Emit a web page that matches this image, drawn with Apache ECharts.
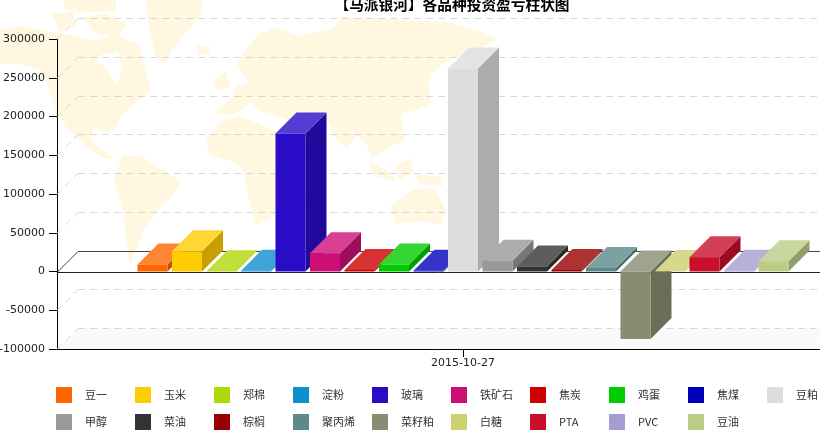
<!DOCTYPE html>
<html>
<head>
<meta charset="utf-8">
<style>html,body{margin:0;padding:0;background:#fff}#c{width:820px;height:444px}</style>
<script src="https://cdn.jsdelivr.net/npm/echarts@6/dist/echarts.min.js"></script>
</head>
<body>
<div id="c"></div>
<script>
const dates = ['2015-10-27'];
const names = ['豆一','玉米','郑棉','淀粉','玻璃','铁矿石','焦炭','鸡蛋','焦煤','豆粕','甲醇','菜油','棕榈','聚丙烯','菜籽粕','白糖','PTA','PVC','豆油'];
const values = [9000,26000,400,1000,178000,23700,2000,9000,1000,262000,14000,6500,2000,4500,-87000,500,18500,1000,13300];
const colors = ['#FF6600','#FFCC00','#AFD80A','#0F8FD0','#2A0CC8','#CC0F77','#CC0000','#00CC00','#0000BB','#DDDDDD','#999999','#333333','#990000','#5B8A88','#868D70','#CCD06E','#C8102A','#A79CCF','#BCCC85'];
const yTicks = [300000,250000,200000,150000,100000,50000,0,-50000,-100000];
const title = '【马派银河】各品种投资盈亏柱状图';

const LEFT = 57, RIGHT = 820, DEPTH = 21, BAR_W = 30, STEP = 34.5;
const LAND = '#FFF7E0';
const landShapes = [
  [[0,31],[20,27],[45,32],[75,37],[95,42],[115,35],[128,42],[138,45],[147,80],[150,90],[133,103],[120,117],[113,130],[105,130],[92,128],[90,140],[100,150],[112,158],[105,158],[90,148],[67,127],[57,110],[50,90],[43,70],[20,63],[0,63]],
  [[53,15],[72,12],[75,25],[60,30]],
  [[65,0],[115,0],[115,10],[85,12],[65,8]],
  [[85,18],[105,15],[125,25],[118,35],[95,32]],
  [[147,0],[202,0],[200,13],[187,30],[170,50],[165,63],[157,57],[150,30]],
  [[197,47],[208,47],[208,53],[200,55]],
  [[123,157],[140,157],[160,170],[180,182],[170,197],[157,210],[143,228],[135,250],[130,262],[127,240],[125,215],[115,180]],
  [[217,113],[233,97],[237,87],[250,83],[238,63],[257,37],[273,28],[300,37],[333,30],[343,18],[387,20],[447,23],[480,32],[495,40],[480,47],[447,60],[430,73],[427,87],[430,103],[413,110],[400,113],[403,140],[387,147],[373,157],[367,143],[357,133],[347,147],[337,140],[330,123],[313,117],[300,123],[283,117],[273,113],[260,110],[250,100],[237,113]],
  [[207,140],[220,123],[240,117],[263,127],[277,133],[290,153],[310,147],[300,167],[287,187],[277,213],[257,223],[250,200],[243,167],[230,160],[210,153]],
  [[392,207],[413,190],[433,190],[445,210],[440,223],[420,220],[397,223]],
  [[370,163],[387,172],[395,180],[375,175]],
  [[397,165],[410,160],[412,172],[400,178]],
  [[415,175],[440,178],[442,185],[420,183]],
  [[215,80],[225,73],[230,87],[218,90]],
  [[303,190],[308,195],[300,210],[296,205]]
];
const waterShapes = [
  [[97,62],[102,54],[118,52],[122,70],[117,84],[113,80],[107,68]]
];

function mix(hex, target, t) {
  const n = parseInt(hex.slice(1), 16);
  const ch = [n >> 16 & 255, n >> 8 & 255, n & 255].map(c => Math.round(c + (target - c) * t));
  return 'rgb(' + ch.join(',') + ')';
}

function barRenderer(i) {
  return function (params, api) {
    const p = api.coord([api.value(0), api.value(1)]);
    const base = api.coord([api.value(0), 0]);
    const x = p[0] + (i - (names.length - 1) / 2) * STEP - BAR_W / 2;
    const top = Math.min(p[1], base[1]), bot = Math.max(p[1], base[1]);
    const r = x + BAR_W;
    return {
      type: 'group',
      children: [
        { type: 'polygon', shape: { points: [[r, top], [r + DEPTH, top - DEPTH], [r + DEPTH, bot - DEPTH], [r, bot]] }, style: { fill: mix(colors[i], 0, 0.22) } },
        { type: 'polygon', shape: { points: [[x, top], [x + DEPTH, top - DEPTH], [r + DEPTH, top - DEPTH], [r, top]] }, style: { fill: mix(colors[i], 255, 0.2) } },
        { type: 'rect', shape: { x: x, y: top, width: BAR_W, height: bot - top }, style: { fill: colors[i] } }
      ]
    };
  };
}

function frameRenderer(params, api) {
  const v = api.value(0);
  const y = Math.round(api.coord([0, v])[1]) + 0.5;
  const zero = v === 0;
  const st = zero
    ? { stroke: '#444', lineWidth: 1, fill: null }
    : { stroke: '#d8d8d8', lineWidth: 1, lineDash: [7, 5], fill: null };
  const children = [
    { type: 'line', shape: { x1: LEFT + DEPTH, y1: y - DEPTH, x2: RIGHT, y2: y - DEPTH }, style: st },
    { type: 'line', shape: { x1: LEFT, y1: y, x2: LEFT + DEPTH, y2: y - DEPTH }, style: st }
  ];
  if (zero) {
    children.push({ type: 'line', z2: 200, shape: { x1: LEFT, y1: y, x2: RIGHT, y2: y }, style: { stroke: '#222', lineWidth: 1 } });
  }
  if (v === yTicks[yTicks.length - 1]) {
    children.unshift({ type: 'polygon', shape: { points: [[LEFT, y], [LEFT + DEPTH, y - DEPTH], [RIGHT, y - DEPTH], [RIGHT, y]] }, style: { fill: '#fafafa' } });
    children.push({ type: 'line', shape: { x1: LEFT, y1: y, x2: RIGHT, y2: y }, style: { stroke: '#000', lineWidth: 1 } });
  }
  return { type: 'group', children: children };
}

const series = [{
  name: 'frame', type: 'custom', z: 1, silent: true,
  renderItem: frameRenderer,
  encode: { y: 0 },
  coordinateSystem: 'cartesian2d',
  data: yTicks.map(v => [v]),
  tooltip: { show: false }
}].concat(names.map((n, i) => ({
  name: n, type: 'custom', z: 3 + i,
  renderItem: barRenderer(i),
  encode: { x: 0, y: 1 },
  itemStyle: { color: colors[i] },
  data: [[dates[0], values[i]]]
})));

const legends = names.map((n, i) => ({
  data: [n], selectedMode: false, orient: 'horizontal', padding: 0, icon: 'rect',
  itemWidth: 16, itemHeight: 16,
  left: 56 + (i % 10) * 79, top: i < 10 ? 387 : 414,
  textStyle: { fontFamily: '"Noto Sans CJK SC"', fontSize: 11, color: '#333', padding: [0, 0, 0, 8] }
}));

const graphics = landShapes.map(s => ({
  type: 'polygon', silent: true, z: -10, shape: { points: s },
  style: { fill: LAND, stroke: LAND, lineWidth: 2, lineJoin: 'round' }
})).concat(waterShapes.map(s => ({
  type: 'polygon', silent: true, z: -9, shape: { points: s }, style: { fill: '#fff' }
})));

const chart = echarts.init(document.getElementById('c'), null, { renderer: 'canvas' });
chart.setOption({
  animation: false,
  backgroundColor: '#fff',
  color: colors,
  title: {
    text: title, left: 447, top: -8, textAlign: 'center',
    textStyle: { fontFamily: '"Noto Sans CJK SC"', fontWeight: 'bold', fontSize: 14.7, color: '#000' }
  },
  graphic: graphics,
  legend: legends,
  grid: { left: 106, right: 0, top: 39, bottom: 95, containLabel: false, outerBoundsMode: 'none' },
  xAxis: {
    type: 'category', data: dates, position: 'bottom',
    axisLine: { show: true, onZero: false, lineStyle: { color: '#000', width: 1 } },
    axisTick: { show: true, alignWithLabel: true, length: 8, lineStyle: { color: '#000' } },
    axisLabel: { color: '#222', fontFamily: '"DejaVu Sans"', fontSize: 11, margin: 9 },
    splitLine: { show: false }
  },
  yAxis: {
    type: 'value', min: -100000, max: 300000, interval: 50000, offset: 49,
    axisLine: { show: true, lineStyle: { color: '#000', width: 1 } },
    axisTick: { show: true, length: 8, lineStyle: { color: '#000' } },
    axisLabel: { color: '#222', fontFamily: '"DejaVu Sans"', fontSize: 11, margin: 12, formatter: v => String(v) },
    splitLine: { show: false }
  },
  series: series
});
</script>
</body>
</html>
